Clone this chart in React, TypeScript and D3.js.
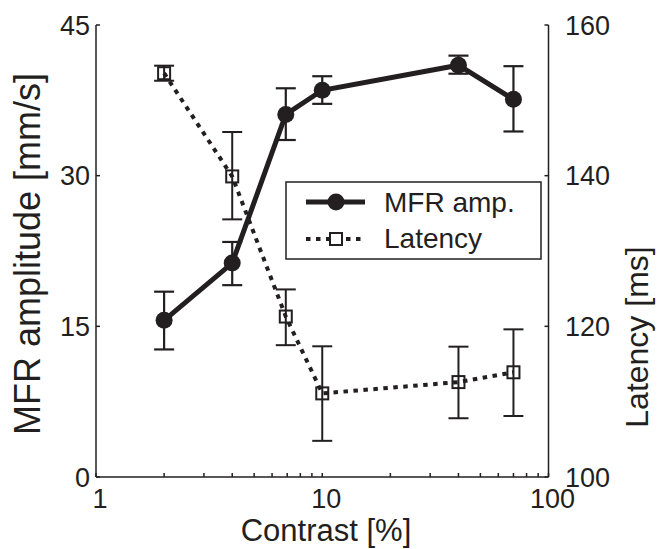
import React from "react";
import * as d3 from "d3";

// contrast levels [%]
const contrast = [2, 4, 6.9, 10, 40, 70];

// MFR amplitude [mm/s] with error bar limits
const mfrAmp = [15.6, 21.3, 36.1, 38.5, 41.0, 37.6];
const mfrHi = [18.45, 23.4, 38.7, 39.9, 41.95, 40.9];
const mfrLo = [12.7, 19.1, 33.55, 37.15, 40.15, 34.4];

// latency [ms] with error bar limits
const latency = [153.6, 139.9, 121.3, 111.1, 112.6, 113.9];
const latHi = [154.6, 145.8, 124.9, 117.35, 117.3, 119.6];
const latLo = [152.6, 134.2, 117.5, 104.8, 107.8, 108.1];

const leftTicks = [0, 15, 30, 45];
const rightTicks = [100, 120, 140, 160];
const xLabels = [1, 10, 100];

const W = 657, H = 549;
const margin = { top: 25, right: 108.5, bottom: 72, left: 96 };
const ink = "#231f20";
const font = "'Liberation Sans', Arial, sans-serif";

export default function App() {
  const x = d3.scaleLog().domain([1, 100]).range([margin.left, W - margin.right]);
  const yL = d3.scaleLinear().domain([0, 45]).range([H - margin.bottom, margin.top]);
  const yR = d3.scaleLinear().domain([100, 160]).range([H - margin.bottom, margin.top]);
  const x0 = margin.left, x1 = W - margin.right;
  const yb = H - margin.bottom, yt = margin.top;

  const mfrLine = d3.line<number>().x((_, i) => x(contrast[i])).y(d => yL(d));
  const latLine = d3.line<number>().x((_, i) => x(contrast[i])).y(d => yR(d));

  const minor = x.ticks();
  const cap = 10;
  const sq = 12;

  return (
    <svg width={W} height={H} style={{ position: "absolute", left: 0, top: 0 }} fontFamily={font}>
      <rect width={W} height={H} fill="#fff" />
      {/* axes */}
      <g stroke={ink} strokeWidth={1.5} fill="none">
        <line x1={x0} y1={yt} x2={x0} y2={yb} />
        <line x1={x1} y1={yt} x2={x1} y2={yb} />
        <line x1={x0} y1={yb} x2={x1} y2={yb} />
        {minor.map((t, i) => (
          <line key={"xt" + i} x1={x(t)} x2={x(t)} y1={yb} y2={yb - 4} />
        ))}
        {leftTicks.map(t => (
          <line key={"lt" + t} x1={x0} x2={x0 + 4} y1={yL(t)} y2={yL(t)} />
        ))}
        {rightTicks.map(t => (
          <line key={"rt" + t} x1={x1} x2={x1 - 4} y1={yR(t)} y2={yR(t)} />
        ))}
      </g>
      <g fill={ink} fontSize={27}>
        {xLabels.map(t => (
          <text key={"xl" + t} x={x(t) + 4} y={508} textAnchor="middle">{t}</text>
        ))}
        {leftTicks.map(t => (
          <text key={"ll" + t} x={90} y={yL(t)} dy="0.36em" textAnchor="end">{t}</text>
        ))}
        {rightTicks.map(t => (
          <text key={"rl" + t} x={565} y={yR(t)} dy="0.36em" textAnchor="start">{t}</text>
        ))}
      </g>
      <text x={326} y={541} textAnchor="middle" fontSize={31} fill={ink}>Contrast [%]</text>
      <text transform="translate(40,254) rotate(-90)" textAnchor="middle" fontSize={36} fill={ink}>MFR amplitude [mm/s]</text>
      <text transform="translate(648,337) rotate(-90)" textAnchor="middle" fontSize={32} fill={ink}>Latency [ms]</text>

      {/* latency series */}
      <path d={latLine(latency) || ""} fill="none" stroke={ink} strokeWidth={4} strokeDasharray="4.5,5.5" />
      <g stroke={ink} strokeWidth={2} fill="none">
        {contrast.map((c, i) => (
          <g key={"le" + i}>
            <line x1={x(c)} x2={x(c)} y1={yR(latHi[i])} y2={yR(latLo[i])} />
            <line x1={x(c) - cap} x2={x(c) + cap} y1={yR(latHi[i])} y2={yR(latHi[i])} />
            <line x1={x(c) - cap} x2={x(c) + cap} y1={yR(latLo[i])} y2={yR(latLo[i])} />
            <rect x={x(c) - sq / 2} y={yR(latency[i]) - sq / 2} width={sq} height={sq} />
          </g>
        ))}
      </g>

      {/* MFR series */}
      <path d={mfrLine(mfrAmp) || ""} fill="none" stroke={ink} strokeWidth={5} />
      <g stroke={ink} strokeWidth={2.2}>
        {contrast.map((c, i) => (
          <g key={"me" + i}>
            <line x1={x(c)} x2={x(c)} y1={yL(mfrHi[i])} y2={yL(mfrLo[i])} />
            <line x1={x(c) - cap} x2={x(c) + cap} y1={yL(mfrHi[i])} y2={yL(mfrHi[i])} />
            <line x1={x(c) - cap} x2={x(c) + cap} y1={yL(mfrLo[i])} y2={yL(mfrLo[i])} />
          </g>
        ))}
      </g>
      {contrast.map((c, i) => (
        <circle key={"mc" + i} cx={x(c)} cy={yL(mfrAmp[i])} r={8.5} fill={ink} />
      ))}

      {/* legend */}
      <g>
        <rect x={286} y={182} width={255} height={77} fill="#fff" stroke={ink} strokeWidth={1.5} />
        <line x1={306} x2={365} y1={202} y2={202} stroke={ink} strokeWidth={5} />
        <circle cx={336} cy={202} r={8.5} fill={ink} />
        <line x1={306} x2={365} y1={239} y2={239} stroke={ink} strokeWidth={4} strokeDasharray="4.5,5.5" />
        <rect x={336 - sq / 2} y={239 - sq / 2} width={sq} height={sq} fill="#fff" stroke={ink} strokeWidth={2} />
        <text x={384} y={212} fontSize={28} fill={ink}>MFR amp.</text>
        <text x={384} y={248} fontSize={28} fill={ink}>Latency</text>
      </g>
    </svg>
  );
}
